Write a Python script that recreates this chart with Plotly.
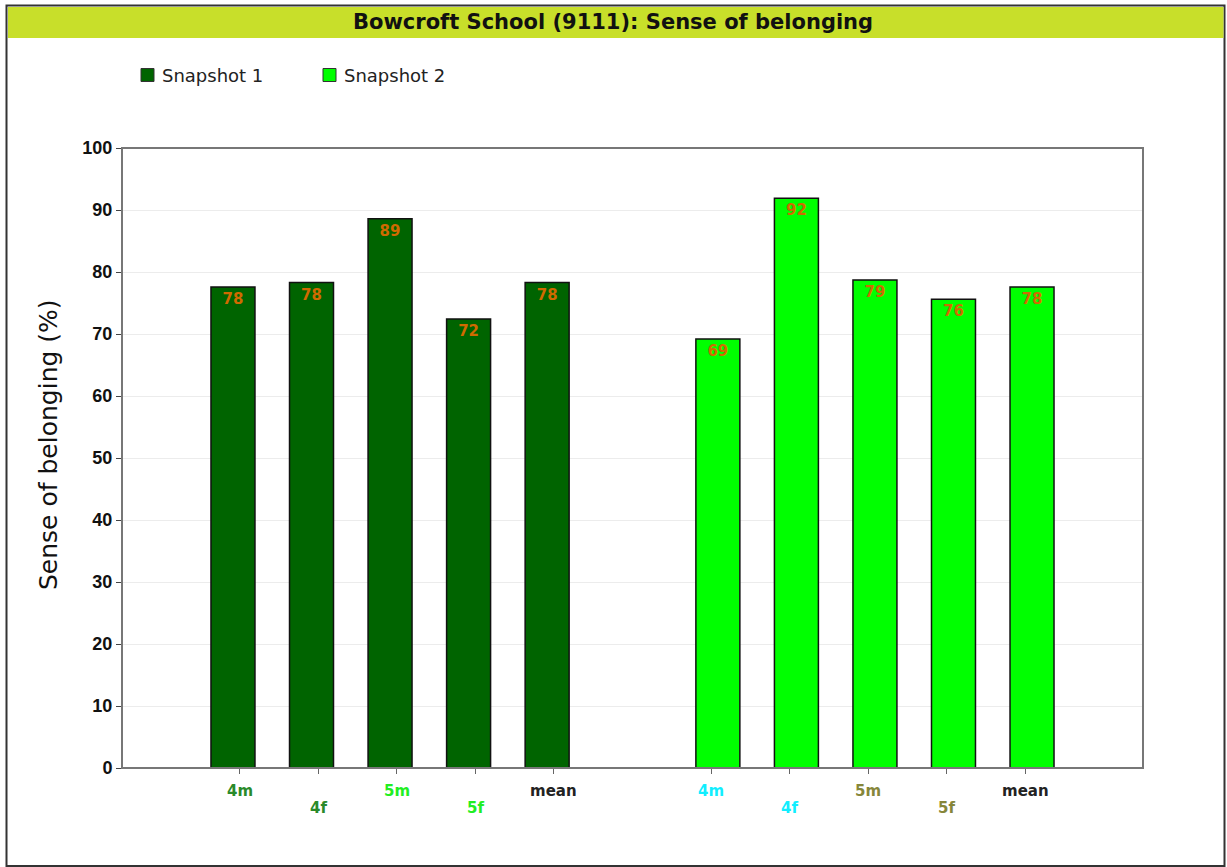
import plotly.graph_objects as go

# ---- data ----
categories = ["4m", "4f", "5m", "5f", "mean"]
snapshot1 = [77.6, 78.3, 88.6, 72.4, 78.3]
snapshot2 = [69.2, 91.9, 78.7, 75.6, 77.6]
series_names = ["Snapshot 1", "Snapshot 2"]
label_colors_1 = ["#2a8a2a", "#2a8a2a", "#22ee22", "#22ee22", "#222222"]
label_colors_2 = ["#11eeff", "#11eeff", "#86863a", "#86863a", "#222222"]
title_text = "Bowcroft School (9111): Sense of belonging"
y_title = "Sense of belonging (%)"

# ---- layout constants ----
W, H = 1227, 867
PL, PR, PT, PB = 122, 1143, 148, 768
FONT = "Liberation Sans"
WIDE = "DejaVu Sans"
bar_colors = ["#006400", "#00ff00"]
group_start = [0, 6]
shift = [-0.087, 0.087]
bw = 0.56


def px_x(px):
    return (px - PL) / (PR - PL)


def px_y(py):
    return (PB - py) / (PB - PT)


fig = go.Figure()
for s, (vals, name) in enumerate(zip([snapshot1, snapshot2], series_names)):
    xs = [group_start[s] + i for i in range(len(categories))]
    fig.add_trace(go.Bar(
        x=xs, y=vals, name=name, width=bw, offset=-bw / 2 + shift[s],
        marker=dict(color=bar_colors[s], line=dict(color="#111111", width=1.5)),
        texttemplate="<b>%{y:.0f}</b>", textposition="inside",
        insidetextanchor="end", textangle=0,
        textfont=dict(color="#d06a00", size=15, family=WIDE),
        showlegend=False, hoverinfo="skip",
    ))

annotations = []
tickvals = []
for s, colors in enumerate([label_colors_1, label_colors_2]):
    for i, cat in enumerate(categories):
        x = group_start[s] + i
        tickvals.append(x)
        row_y = 791 if i % 2 == 0 else 808
        annotations.append(dict(
            x=x, y=px_y(row_y), xref="x", yref="paper", text="<b>%s</b>" % cat,
            showarrow=False, font=dict(family=WIDE, size=15, color=colors[i]),
            xanchor="center", yanchor="middle"))

# title
annotations.append(dict(x=px_x(613), y=px_y(22), xref="paper", yref="paper",
                        text="<b>%s</b>" % title_text, showarrow=False,
                        font=dict(family=WIDE, size=21, color="#111111"),
                        xanchor="center", yanchor="middle"))
# legend
leg_x = [141, 323]
for s, name in enumerate(series_names):
    annotations.append(dict(x=px_x(leg_x[s] + 19), y=px_y(75), xref="paper", yref="paper",
                            text=name, showarrow=False,
                            font=dict(family=WIDE, size=18, color="#222222"),
                            xanchor="left", yanchor="middle"))
# y-axis title
annotations.append(dict(x=px_x(48), y=px_y(445), xref="paper", yref="paper",
                        text=y_title, showarrow=False, textangle=-90,
                        font=dict(family=WIDE, size=25, color="#111111"),
                        xanchor="center", yanchor="middle"))

shapes = [
    # outer frame
    dict(type="rect", xref="paper", yref="paper", x0=px_x(6.5), x1=px_x(1224.5),
         y0=px_y(866), y1=px_y(5.5), line=dict(color="#333333", width=2), layer="below"),
    # title bar
    dict(type="rect", xref="paper", yref="paper", x0=px_x(8), x1=px_x(1223.5),
         y0=px_y(38), y1=px_y(7), line=dict(width=0), fillcolor="#c8df2a", layer="below"),
    # plot frame
    dict(type="rect", xref="paper", yref="paper", x0=0, x1=1, y0=0, y1=1,
         line=dict(color="#777777", width=2)),
]
for s in range(2):
    x0 = leg_x[s]
    shapes.append(dict(type="rect", xref="paper", yref="paper",
                       x0=px_x(x0), x1=px_x(x0 + 13), y0=px_y(81.5), y1=px_y(68.5),
                       fillcolor=bar_colors[s], line=dict(color="#333333", width=1)))

fig.update_layout(
    width=W, height=H,
    margin=dict(l=PL, r=W - PR, t=PT, b=H - PB, pad=0),
    paper_bgcolor="white", plot_bgcolor="white",
    font=dict(family=FONT, color="#111111"),
    barmode="overlay",
    xaxis=dict(range=[-1.5, 11.5], tickvals=tickvals, showticklabels=False,
               ticks="outside", ticklen=5, tickcolor="#666666", showgrid=False,
               zeroline=False, showline=False),
    yaxis=dict(range=[0, 100], dtick=10, ticks="outside", ticklen=5, tickcolor="#444444",
               tickfont=dict(family=FONT, size=18, color="#111111", weight="bold"),
               showgrid=True, gridcolor="#ececec", gridwidth=1, zeroline=False,
               showline=False),
    annotations=annotations,
    shapes=shapes,
)

fig.write_html("out.html", config={"displayModeBar": False},
               post_script="document.body.style.margin='0px';")
